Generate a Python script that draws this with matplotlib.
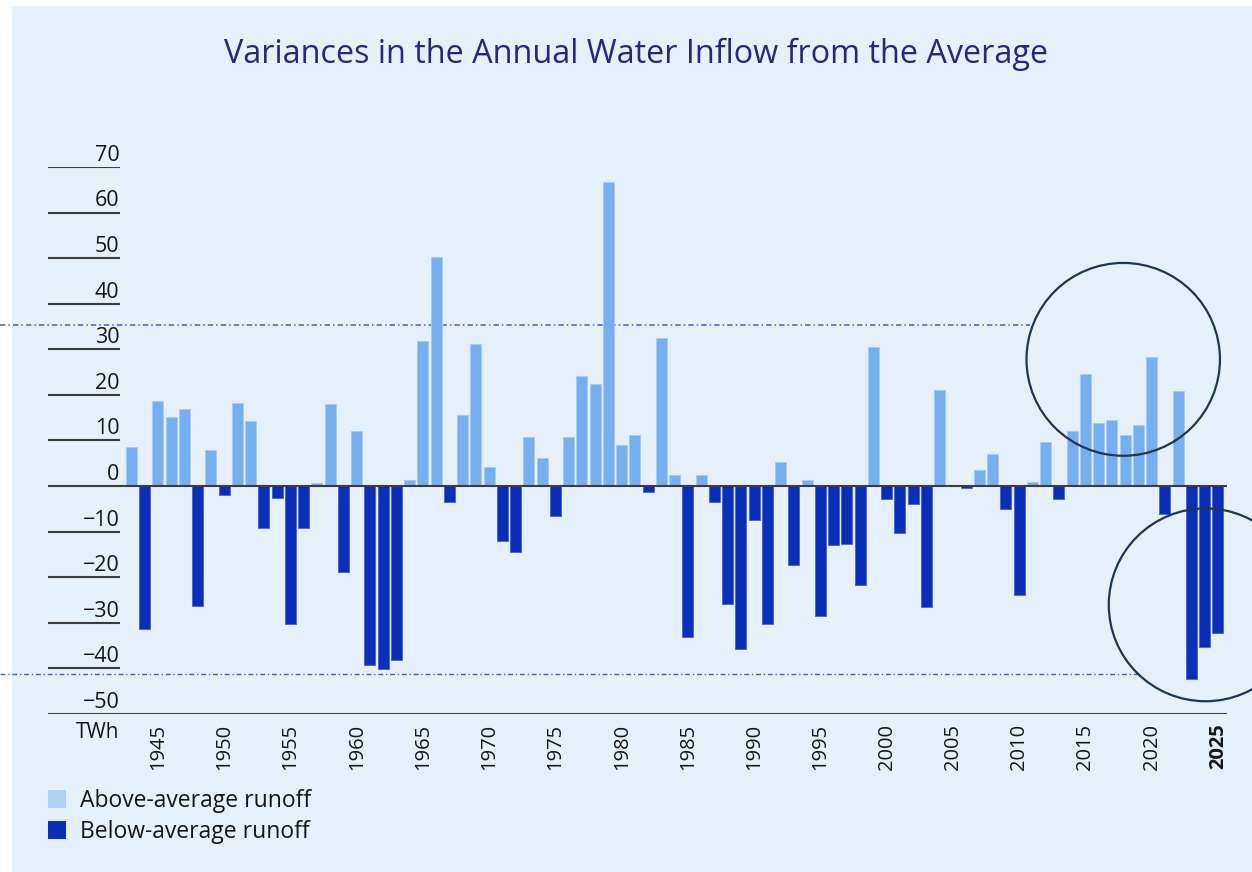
import matplotlib.pyplot as plt
from matplotlib.patches import Patch, Ellipse, Rectangle

# ---- data (TWh deviation from average annual inflow) ----
years = list(range(1943, 2026))
variance = [
    8.6, -31.3, 18.6, 15.2, 17.0, -26.2, 7.9, -2.0, 18.3, 14.2,      # 1943-1952
    -9.2, -2.7, -30.3, -9.2, 0.7, 18.0, -18.9, 12.1, -39.3, -40.2,   # 1953-1962
    -38.2, 1.4, 31.9, 50.2, -3.6, 15.7, 31.1, 4.2, -12.0, -14.4,     # 1963-1972
    10.7, 6.2, -6.5, 10.7, 24.2, 22.5, 66.8, 9.1, 11.1, -1.2,        # 1973-1982
    32.5, 2.5, -33.0, 2.5, -3.4, -25.8, -35.8, -7.5, -30.3, 5.2,     # 1983-1992
    -17.4, 1.4, -28.6, -13.0, -12.6, -21.6, 30.5, -2.9, -10.2, -4.0, # 1993-2002
    -26.5, 21.1, 0.3, -0.4, 3.5, 7.0, -5.0, -24.0, 1.0, 9.7,         # 2003-2012
    -2.9, 12.1, 24.6, 13.9, 14.6, 11.2, 13.3, 28.4, -6.1, 20.8,      # 2013-2022
    -42.3, -35.4, -32.3,                                             # 2023-2025
]
tick_years = list(range(1945, 2026, 5))
y_ticks = list(range(70, -60, -10))
ref_high = 35.3
ref_low = -41.3
legend_labels = ["Above-average runoff", "Below-average runoff"]

LIGHT = "#75aff0"
DARK = "#0b2eb9"
BG = "#e5f0fa"
TXT = "#161616"

plt.rcParams["font.family"] = ["Open Sans", "DejaVu Sans"]

W, H = 1252, 872
fig = plt.figure(figsize=(W / 100, H / 100), dpi=100, facecolor="white")
fig.patches.append(Rectangle((12 / W, 0), 1, 1 - 6 / H, transform=fig.transFigure,
                             facecolor=BG, edgecolor="none", zorder=-10))

ax_l, ax_r, ax_b, ax_t = 48, 1226.7, 714, 167
ax = fig.add_axes([ax_l / W, 1 - ax_b / H, (ax_r - ax_l) / W, (ax_b - ax_t) / H])
ax.set_facecolor("none")
ax.set_xlim(1936.7, 2025.66)
ax.set_ylim(-50, 70)
for s in ax.spines.values():
    s.set_visible(False)
ax.set_yticks([])

colors = [LIGHT if v >= 0 else DARK for v in variance]
edges = ["#a6cbf6" if v >= 0 else "#4d69cf" for v in variance]
ax.bar(years, variance, width=0.83, color=colors, edgecolor=edges, linewidth=0.7, zorder=2)

# y "ticks": short rules with labels sitting on top
short = (119.3 - ax_l) / (ax_r - ax_l)
for v in y_ticks:
    if v in (0, -50):
        ax.axhline(v, color="#3c3c3c", lw=1.5, zorder=3)
    else:
        ax.axhline(v, xmin=0, xmax=short, color="#3c3c3c", lw=1.5, zorder=3)
    lab = str(v).replace("-", "\u2212")
    ax.text(short, v + 1.35, lab, transform=ax.get_yaxis_transform(), ha="right",
            va="baseline", fontsize=15.5, color=TXT)

# reference lines
ax.axhline(ref_high, xmin=-ax_l / (ax_r - ax_l), xmax=(1030 - ax_l) / (ax_r - ax_l),
           color="#4a5cc6", lw=1.1, ls=(0, (3.5, 2, 1, 2)), clip_on=False, zorder=1)
ax.axhline(ref_low, xmin=-ax_l / (ax_r - ax_l), xmax=(1138 - ax_l) / (ax_r - ax_l),
           color="#4a5cc6", lw=1.0, ls=(0, (3.5, 2, 1, 2)), clip_on=False, zorder=1)

# highlight circles
for cx, cy in [(2017.85, 27.8), (2024.06, -26.05)]:
    ax.add_patch(Ellipse((cx, cy), 14.6, 42.3, facecolor="none", edgecolor="#1e3650",
                         lw=1.6, clip_on=False, zorder=5))

ax.set_xticks(tick_years)
ax.set_xticklabels([str(y) for y in tick_years], rotation=90, fontsize=14.5, color=TXT)
ax.get_xticklabels()[-1].set_fontweight("bold")
ax.tick_params(axis="x", length=0, pad=7)

fig.text(119.3 / W, 1 - 722 / H, "TWh", ha="right", va="top", fontsize=15, color=TXT)

fig.text(636 / W, 1 - 54 / H, "Variances in the Annual Water Inflow from the Average",
         ha="center", va="center", fontsize=23.3, color="#27287a")

handles = [Patch(facecolor="#b1d2f7", edgecolor="none"), Patch(facecolor=DARK, edgecolor="none")]
fig.legend(handles, legend_labels, loc="upper left", bbox_to_anchor=(48 / W, 1 - 789 / H),
           frameon=False, fontsize=16.5, handlelength=0.8, handleheight=0.8,
           handletextpad=0.6, labelspacing=0.3, borderpad=0, borderaxespad=0,
           labelcolor=TXT)

fig.savefig("out.png", dpi=100, facecolor="white")
